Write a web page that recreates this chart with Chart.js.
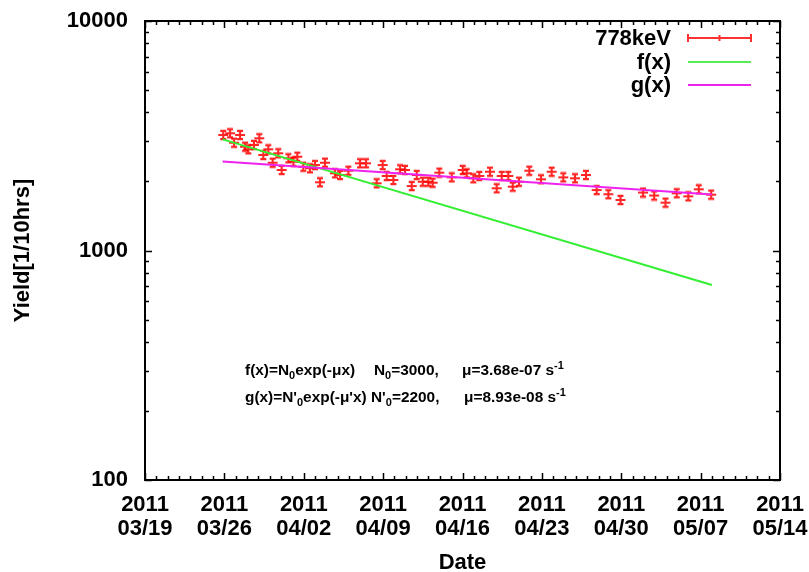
<!DOCTYPE html>
<html>
<head>
<meta charset="utf-8">
<title>778keV yield</title>
<script src="https://cdn.jsdelivr.net/npm/chart.js@4/dist/chart.umd.min.js"></script>
<style>
  html, body { margin: 0; padding: 0; background: #fff; }
  #chart { display: block; }
</style>
</head>
<body>
<canvas id="chart" width="809" height="572"></canvas>
<script>
// days since 2011-03-19 00:00 and yield per 10 hours
const days = [6.90, 7.50, 7.85, 8.38, 8.82, 9.11, 9.61, 10.08, 10.43, 10.87,
  11.26, 11.75, 12.05, 12.64, 13.08, 13.43, 13.96, 14.55, 14.99, 15.43,
  15.87, 16.75, 17.20, 17.93, 18.96, 19.49, 20.43, 20.96, 21.31, 21.90,
  22.49, 22.93, 23.52, 23.96, 24.49, 24.98, 25.37, 25.95, 27.05, 28.02,
  28.37, 28.95, 29.48, 30.42, 31.01, 31.46, 32.04, 32.43, 32.98, 33.89,
  34.92, 35.86, 36.89, 37.92, 38.89, 39.83, 40.86, 41.93, 43.92, 44.90,
  45.90, 46.89, 47.91, 48.84, 49.93];
const yields = [3187, 3242, 2949, 3187, 2833, 2761, 2883, 3083, 2607, 2761,
  2413, 2652, 2243, 2522, 2437, 2563, 2318, 2282, 2358, 1983,
  2413, 2170, 2133, 2227, 2399, 2399, 1963, 2358, 2112, 2029,
  2259, 2243, 1910, 2133, 1994, 1994, 1974, 2183, 2084, 2243,
  2170, 2064, 2112, 2205, 1867, 2112, 2112, 1897, 1994, 2227,
  2043, 2205, 2084, 2064, 2133, 1834, 1759, 1660, 1789, 1736,
  1616, 1775, 1722, 1848, 1751];

// fitted curves (straight on a log axis, so two ends are enough)
const fitDays = [6.85, 50.0];
const fValues = [3050, 707];
const gValues = [2440, 1752];

const xTickDays = [0, 7, 14, 21, 28, 35, 42, 49, 56];
const xTickDates = ['03/19', '03/26', '04/02', '04/09', '04/16', '04/23', '04/30', '05/07', '05/14'];
const xTickYear = '2011';
const yTicks = [100, 1000, 10000];

const FONT = "'Liberation Sans', Arial, Helvetica, sans-serif";

// error-bar style marker: cross with caps
function makeMarker() {
  const c = document.createElement('canvas');
  c.width = 12; c.height = 12;
  const g = c.getContext('2d');
  g.strokeStyle = 'rgba(255,0,0,0.85)';
  g.lineWidth = 2.2;
  g.beginPath();
  g.moveTo(1, 6); g.lineTo(11, 6);
  g.moveTo(6, 1); g.lineTo(6, 11);
  g.moveTo(3, 1.8); g.lineTo(9, 1.8);
  g.moveTo(3, 10.2); g.lineTo(9, 10.2);
  g.stroke();
  return c;
}

function toPoints(xs, ys) {
  return xs.map((x, i) => ({ x: x, y: ys[i] }));
}

// text pieces with sub/superscripts, slightly stretched sideways
function drawRich(ctx, x, y, segs, stretch) {
  ctx.save();
  ctx.translate(x, y);
  ctx.scale(stretch, 1);
  let cx = 0;
  segs.forEach(s => {
    let dy = 0;
    if (s[1] === 'sub') { ctx.font = 'bold 10px ' + FONT; dy = 4; }
    else if (s[1] === 'sup') { ctx.font = 'bold 10px ' + FONT; dy = -6; }
    else ctx.font = 'bold 14px ' + FONT;
    ctx.fillText(s[0], cx, dy);
    cx += ctx.measureText(s[0]).width;
  });
  ctx.restore();
}

// frame, inward ticks, legend and fit annotation
const decorations = {
  id: 'decorations',
  afterDraw(chart) {
    const ctx = chart.ctx;
    const a = chart.chartArea;
    const xs = chart.scales.x;
    const ys = chart.scales.y;
    ctx.save();
    ctx.strokeStyle = '#000';
    ctx.lineWidth = 1.5;
    ctx.beginPath();
    for (let d = 0; d <= 56; d++) {
      const px = Math.round(xs.getPixelForValue(d)) + 0.5;
      const len = d % 7 === 0 ? 7 : 4;
      ctx.moveTo(px, a.bottom); ctx.lineTo(px, a.bottom - len);
      ctx.moveTo(px, a.top); ctx.lineTo(px, a.top + len);
    }
    for (let p = 100; p <= 10000; p *= 10) {
      for (let m = 1; m <= 9; m++) {
        const v = p * m;
        if (v > 10000) break;
        const py = Math.round(ys.getPixelForValue(v)) + 0.5;
        const len = m === 1 ? 7 : 4;
        ctx.moveTo(a.left, py); ctx.lineTo(a.left + len, py);
        ctx.moveTo(a.right, py); ctx.lineTo(a.right - len, py);
      }
    }
    ctx.stroke();
    ctx.lineWidth = 2;
    ctx.strokeRect(a.left, a.top, a.right - a.left, a.bottom - a.top);

    // legend
    ctx.font = 'bold 22px ' + FONT;
    ctx.fillStyle = '#000';
    ctx.textAlign = 'right';
    ctx.textBaseline = 'middle';
    const ds = chart.data.datasets;
    const rows = [38, 62, 85];
    const x0 = 688, x1 = 751;
    ds.forEach((d, i) => {
      const y = rows[i];
      ctx.fillText(d.label, 671, y + 1);
      ctx.strokeStyle = d.legendColor;
      ctx.lineWidth = 2;
      ctx.beginPath();
      ctx.moveTo(x0, y); ctx.lineTo(x1, y);
      if (i === 0) {
        ctx.moveTo(x0, y - 4); ctx.lineTo(x0, y + 4);
        ctx.moveTo(x1, y - 4); ctx.lineTo(x1, y + 4);
        const xm = (x0 + x1) / 2;
        ctx.moveTo(xm, y - 3); ctx.lineTo(xm, y + 3);
      }
      ctx.stroke();
    });

    // fit parameters
    const lines = [
      { y: 375, parts: [
        { x: 245, segs: [['f(x)=N'], ['0', 'sub'], ['exp(-\u03bcx)']] },
        { x: 374, segs: [['N'], ['0', 'sub'], ['=3000,']] },
        { x: 462, segs: [['\u03bc=3.68e-07 s'], ['-1', 'sup']] }
      ] },
      { y: 402, parts: [
        { x: 245, segs: [["g(x)=N'"], ['0', 'sub'], ["exp(-\u03bc'x)"]] },
        { x: 371, segs: [["N'"], ['0', 'sub'], ['=2200,']] },
        { x: 464, segs: [['\u03bc=8.93e-08 s'], ['-1', 'sup']] }
      ] }
    ];
    ctx.textAlign = 'left';
    ctx.textBaseline = 'alphabetic';
    ctx.fillStyle = '#000';
    lines.forEach(line => {
      line.parts.forEach(part => drawRich(ctx, part.x, line.y, part.segs, 1.1));
    });
    ctx.restore();
  }
};

const tickFont = { family: FONT, size: 22, weight: 'bold', lineHeight: 1.1 };

new Chart(document.getElementById('chart'), {
  type: 'scatter',
  data: {
    datasets: [
      {
        label: '778keV',
        data: toPoints(days, yields),
        pointStyle: makeMarker(),
        pointRadius: 6,
        legendColor: '#ff3030',
        order: 3
      },
      {
        label: 'f(x)',
        type: 'line',
        data: toPoints(fitDays, fValues),
        borderColor: '#33ee33',
        borderWidth: 2,
        pointRadius: 0,
        fill: false,
        legendColor: '#55ee55',
        order: 2
      },
      {
        label: 'g(x)',
        type: 'line',
        data: toPoints(fitDays, gValues),
        borderColor: '#ee22ee',
        borderWidth: 2,
        pointRadius: 0,
        fill: false,
        legendColor: '#ee22ee',
        order: 1
      }
    ]
  },
  options: {
    responsive: false,
    animation: false,
    layout: { padding: { top: 21, right: 29, left: 0, bottom: 0 } },
    plugins: {
      legend: { display: false },
      tooltip: { enabled: false }
    },
    scales: {
      x: {
        type: 'linear',
        min: 0,
        max: 56,
        afterFit(s) {
          s.height = 92;
          s.paddingLeft = 0;
          s.paddingRight = 0;
        },
        afterBuildTicks(s) { s.ticks = xTickDays.map(v => ({ value: v })); },
        grid: { display: false, drawTicks: false },
        border: { display: false },
        ticks: {
          autoSkip: false,
          maxRotation: 0,
          padding: 13,
          color: '#000',
          font: tickFont,
          callback: v => [xTickYear, xTickDates[xTickDays.indexOf(v)]]
        },
        title: {
          display: true,
          text: 'Date',
          color: '#000',
          font: { family: FONT, size: 22, weight: 'bold', lineHeight: 1 },
          padding: { top: 0, bottom: -2 }
        }
      },
      y: {
        type: 'logarithmic',
        min: 100,
        max: 10000,
        afterFit(s) {
          s.width = 145;
          s.paddingTop = 0;
          s.paddingBottom = 0;
        },
        afterBuildTicks(s) { s.ticks = yTicks.map(v => ({ value: v })); },
        grid: { display: false, drawTicks: false },
        border: { display: false },
        ticks: {
          padding: 17,
          color: '#000',
          font: tickFont,
          callback: v => String(v)
        },
        title: {
          display: true,
          text: 'Yield[1/10hrs]',
          color: '#000',
          font: { family: FONT, size: 22, weight: 'bold', lineHeight: 1.2 },
          padding: { top: 10, bottom: 0 }
        }
      }
    }
  },
  plugins: [decorations]
});
</script>
</body>
</html>
